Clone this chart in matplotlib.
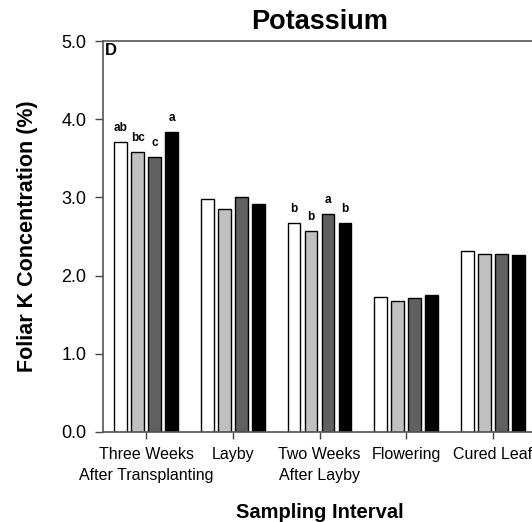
import numpy as np
import matplotlib.pyplot as plt

plt.rcParams['font.family'] = ['Liberation Sans', 'DejaVu Sans']

# Sampling intervals and the four treatments
intervals = ['Three Weeks\nAfter Transplanting', 'Layby\n ', 'Two Weeks\nAfter Layby',
             'Flowering\n ', 'Cured Leaf\n ']
trt1 = [3.71, 2.98, 2.67, 1.73, 2.32]
trt2 = [3.58, 2.85, 2.57, 1.67, 2.28]
trt3 = [3.52, 3.00, 2.79, 1.71, 2.28]
trt4 = [3.84, 2.91, 2.67, 1.75, 2.26]
letters1 = ['ab', '', 'b', '', '']
letters2 = ['bc', '', 'b', '', '']
letters3 = ['c', '', 'a', '', '']
letters4 = ['a', '', 'b', '', '']

series = [trt1, trt2, trt3, trt4]
letters = [letters1, letters2, letters3, letters4]
colors = ['white', '#c0c0c0', '#606060', 'black']

fig = plt.figure(figsize=(5.32, 5.22), dpi=100)
ax = fig.add_axes([103 / 532, 90 / 522, 433 / 532, 391 / 522])

x = np.arange(len(intervals)) + 0.5
offsets = [-0.294, -0.098, 0.098, 0.294]
for vals, labs, col, off in zip(series, letters, colors, offsets):
    ax.bar(x + off, vals, width=0.148, color=col, edgecolor='black', linewidth=1)
    for xi, v, lab in zip(x + off, vals, labs):
        if lab:
            ax.text(xi, v + 0.1, lab, ha='center', va='bottom', fontsize=8.5, fontweight='bold')

ax.set_xlim(0, 5)
ax.set_ylim(0, 5)
ax.set_yticks([0, 1, 2, 3, 4, 5])
ax.set_yticklabels(['0.0', '1.0', '2.0', '3.0', '4.0', '5.0'], fontsize=13)
ax.set_xticks(x)
ax.set_xticklabels(intervals, fontsize=11.5, linespacing=1.45)
ax.tick_params(axis='both', direction='out', length=6, width=1, colors='#444444', labelcolor='black')
ax.tick_params(axis='x', pad=6, length=5)
ax.tick_params(axis='y', pad=6)
for s in ['left', 'top', 'bottom']:
    ax.spines[s].set_color('#555555')
    ax.spines[s].set_linewidth(1.2)
ax.spines['right'].set_visible(False)

ax.set_title('Potassium', fontsize=19.5, fontweight='bold', pad=8.5)
ax.set_xlabel('Sampling Interval', fontsize=14.5, fontweight='bold', va='center')
ax.xaxis.set_label_coords(0.5, -0.207)
ax.set_ylabel('Foliar K Concentration (%)', fontsize=15.5, fontweight='bold', va='center')
ax.yaxis.set_label_coords(-0.175, 0.5)
ax.text(0.004, 0.995, 'D', transform=ax.transAxes, ha='left', va='top', fontsize=12, fontweight='bold')

fig.savefig('out.png', dpi=100)
